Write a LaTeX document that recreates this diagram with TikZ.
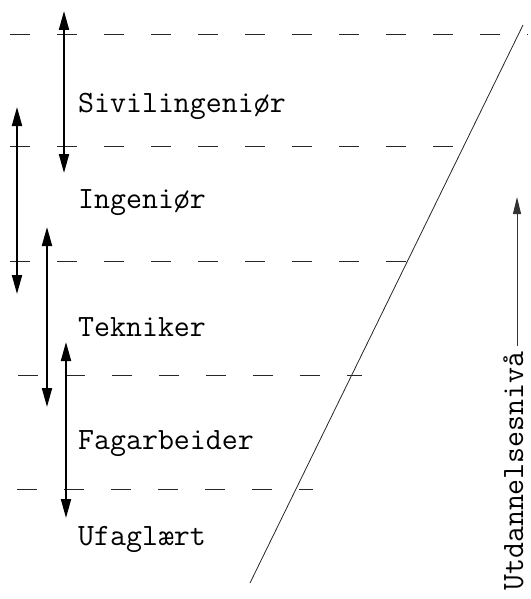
\documentclass[tikz,border=0pt]{standalone}
\usetikzlibrary{arrows.meta}
\begin{document}
\begin{tikzpicture}[x=1pt,y=-1pt,
  level/.style={draw=black!85, line width=0.7pt, dash pattern=on 20pt off 27pt},
  span/.style={draw=black, line width=2pt, {Triangle[length=19pt,width=10pt]}-{Triangle[length=19pt,width=10pt]}},
  lbl/.style={font=\ttfamily\fontsize{31}{33}\selectfont, anchor=base west, inner sep=0pt},
  axis/.style={draw=black!80, line width=0.9pt, -{Triangle[length=17pt,width=8pt]}}]
\useasboundingbox (0,0) rectangle (530,599);
% level lines
\coordinate (l1a) at (10,34);  \coordinate (l1b) at (528,34);
\coordinate (l2a) at (10,146); \coordinate (l2b) at (474,146);
\coordinate (l3a) at (10,261); \coordinate (l3b) at (415,261);
\coordinate (l4a) at (18,375); \coordinate (l4b) at (362,375);
\coordinate (l5a) at (17,489); \coordinate (l5b) at (313,489);
\draw[level] (l1a) -- (l1b);
\draw[level] (l2a) -- (l2b);
\draw[level] (l3a) -- (l3b);
\draw[level] (l4a) -- (l4b);
\draw[level] (l5a) -- (l5b);
% diagonal
\coordinate (dtop) at (523,25); \coordinate (dbot) at (250,583);
\draw[draw=black!85, line width=0.8pt] (dtop) -- (dbot);
% labels
\node[lbl] (siv) at (78,113) {Sivilingeniør};
\node[lbl] (ing) at (78,208) {Ingeniør};
\node[lbl] (tek) at (78,336) {Tekniker};
\node[lbl] (fag) at (78,449) {Fagarbeider};
\node[lbl] (ufa) at (78,545) {Ufaglært};
% range arrows
\coordinate (a1) at (64,11);  \coordinate (a2) at (64,173);
\coordinate (b1) at (17,107); \coordinate (b2) at (17,294);
\coordinate (c1) at (47,227); \coordinate (c2) at (47,407);
\coordinate (d1) at (66,342); \coordinate (d2) at (66,518);
\draw[span] (a1) -- (a2);
\draw[span] (b1) -- (b2);
\draw[span] (c1) -- (c2);
\draw[span] (d1) -- (d2);
% axis label
\node[lbl, rotate=90] (utd) at (523,591) {Utdannelsesnivå};
\coordinate (ax) at (517,197);
\coordinate (axs) at (517,346);
\draw[axis] (axs) -- (ax);
\end{tikzpicture}
\end{document}
